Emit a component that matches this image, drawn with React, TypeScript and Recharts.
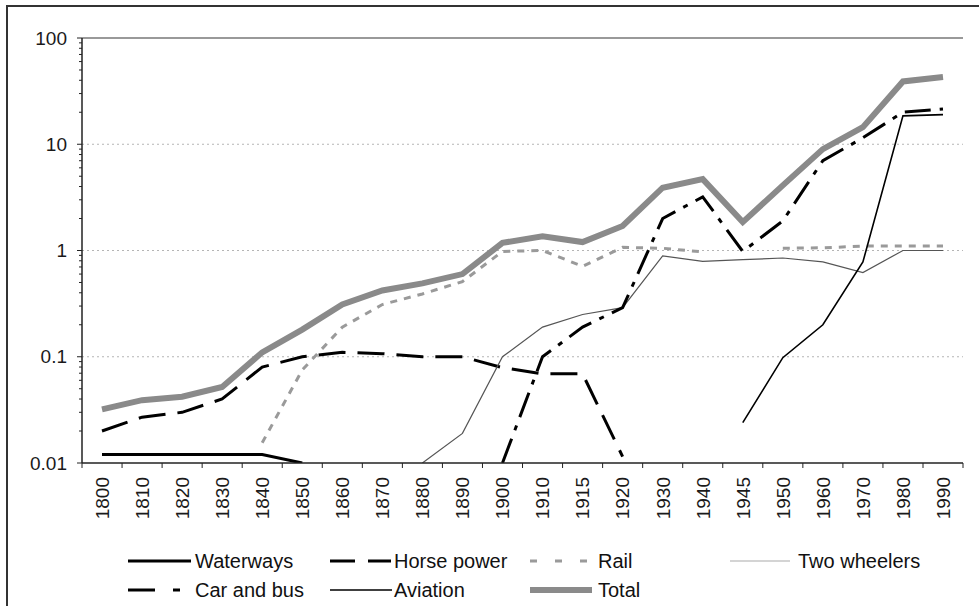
import React from 'react';
import { LineChart, Line, XAxis, YAxis, ReferenceLine, Legend } from 'recharts';

const years = ['1800','1810','1820','1830','1840','1850','1860','1870','1880','1890','1900','1910','1915','1920','1930','1940','1945','1950','1960','1970','1980','1990'];
const waterways = [0.012,0.012,0.012,0.012,0.012,0.01,null,null,null,null,null,null,null,null,null,null,null,null,null,null,null,null];
const horsePower = [0.02,0.027,0.03,0.04,0.08,0.1,0.11,0.107,0.1,0.1,0.079,0.069,0.069,0.0115,null,null,null,null,null,null,null,null];
const rail = [null,null,null,null,0.0155,0.075,0.19,0.31,0.39,0.51,0.98,1.0,0.71,1.07,1.05,0.97,null,1.05,1.06,1.1,1.1,1.1];
const twoWheelers = [null,null,null,null,null,null,null,null,0.01,0.019,0.1,0.19,0.25,0.29,0.89,0.79,0.82,0.85,0.78,0.62,1.0,1.0];
const carAndBus = [null,null,null,null,null,null,null,null,null,null,0.01,0.1,0.19,0.29,2.0,3.2,0.98,1.9,7,11.5,20,21.5];
const aviation = [null,null,null,null,null,null,null,null,null,null,null,null,null,null,null,null,0.024,0.098,0.2,0.78,18.5,19];
const total = [0.032,0.039,0.042,0.052,0.11,0.18,0.31,0.42,0.49,0.6,1.18,1.36,1.2,1.7,3.9,4.7,1.85,4.1,9,14.5,39,43];

const majorTicks = [0.01, 0.1, 1, 10, 100];
const tickLabels = ['0.01', '0.1', '1', '10', '100'];
const minorMultipliers = [2, 3, 4, 5, 6, 7, 8, 9];
const gridValues = [0.1, 1, 10];

const allTicks: number[] = [];
majorTicks.forEach((m, i) => {
  allTicks.push(m);
  if (i < majorTicks.length - 1) minorMultipliers.forEach((k) => allTicks.push(+(m * k).toPrecision(3)));
});

const data = years.map((y, i) => ({
  year: y,
  waterways: waterways[i],
  horsePower: horsePower[i],
  rail: rail[i],
  twoWheelers: twoWheelers[i],
  carAndBus: carAndBus[i],
  aviation: aviation[i],
  total: total[i],
}));

const FONT = '"Liberation Sans", Arial, sans-serif';

const series = [
  { key: 'total', name: 'Total', stroke: '#8a8a8a', width: 6, dash: undefined },
  { key: 'waterways', name: 'Waterways', stroke: '#000', width: 3, dash: undefined },
  { key: 'horsePower', name: 'Horse power', stroke: '#000', width: 3, dash: '27 12' },
  { key: 'rail', name: 'Rail', stroke: '#9a9a9a', width: 3, dash: '7 7' },
  { key: 'twoWheelers', name: 'Two wheelers', stroke: '#555', width: 1.2, dash: undefined },
  { key: 'carAndBus', name: 'Car and bus', stroke: '#000', width: 3, dash: '26 9 5 9' },
  { key: 'aviation', name: 'Aviation', stroke: '#000', width: 1.6, dash: undefined },
];

const legendLayout: { key: string; lx: number; ly: number; tx: number; sampleW: number; legendStroke?: string; legendDash?: string }[] = [
  { key: 'waterways', lx: 128, ly: 561, tx: 195, sampleW: 63 },
  { key: 'horsePower', lx: 330, ly: 561, tx: 394, sampleW: 61, legendDash: '25 13' },
  { key: 'rail', lx: 530, ly: 561, tx: 598, sampleW: 58, legendDash: '7 18' },
  { key: 'twoWheelers', lx: 730, ly: 561, tx: 798, sampleW: 60, legendStroke: '#aaa' },
  { key: 'carAndBus', lx: 128, ly: 590, tx: 195, sampleW: 53, legendDash: '27 18 7 20' },
  { key: 'aviation', lx: 330, ly: 590, tx: 394, sampleW: 62 },
  { key: 'total', lx: 530, ly: 590, tx: 598, sampleW: 62 },
];

const YTick = (props: any) => {
  const { x, y, payload } = props;
  const idx = majorTicks.indexOf(payload.value);
  const isMajor = idx >= 0;
  return (
    <g>
      <line x1={x - (isMajor ? 5 : 3)} x2={x} y1={y} y2={y} stroke="#222" strokeWidth={1} />
      {isMajor && (
        <text x={x - 15} y={y} dy="0.35em" textAnchor="end" fontSize={19} fontFamily={FONT} fill="#1a1a1a">
          {tickLabels[idx]}
        </text>
      )}
    </g>
  );
};

const XTick = (props: any) => {
  const { x, y, payload, index } = props;
  const half = 20;
  return (
    <g>
      <line x1={x - half} x2={x - half} y1={y} y2={y + 5} stroke="#222" strokeWidth={1} />
      {index === years.length - 1 && <line x1={x + half} x2={x + half} y1={y} y2={y + 5} stroke="#222" strokeWidth={1} />}
      <text
        transform={`translate(${x},${y + 14}) rotate(-90)`}
        textAnchor="end"
        dy="0.36em"
        fontSize={19}
        fontFamily={FONT}
        fill="#1a1a1a"
      >
        {payload.value}
      </text>
    </g>
  );
};

const renderLegend = () => (
  <svg width={979} height={611} style={{ position: 'absolute', left: 0, top: 0, overflow: 'visible' }}>
    {legendLayout.map((l) => {
      const s = series.find((q) => q.key === l.key)!;
      return (
        <g key={l.key}>
          <line
            x1={l.lx}
            x2={l.lx + l.sampleW}
            y1={l.ly}
            y2={l.ly}
            stroke={l.legendStroke || s.stroke}
            strokeWidth={s.width}
            strokeDasharray={l.legendDash}
          />
          <text x={l.tx} y={l.ly} dy="0.35em" fontSize={20} fontFamily={FONT} fill="#111">
            {s.name}
          </text>
        </g>
      );
    })}
  </svg>
);

export default function App() {
  return (
    <div style={{ position: 'fixed', left: 0, top: 0, width: 979, height: 611, background: '#fff' }}>
      <div
        style={{
          position: 'absolute',
          left: 6,
          top: 5,
          width: 980,
          height: 601,
          borderLeft: '2px solid #333',
          borderTop: '2px solid #333',
          boxSizing: 'border-box',
        }}
      />
      <div style={{ position: 'absolute', left: 0, top: 0 }}>
        <LineChart
          width={979}
          height={611}
          data={data}
          margin={{ top: 38, right: 16, bottom: 88, left: 22 }}
        >
          {gridValues.map((v) => (
            <ReferenceLine key={v} y={v} stroke="#b5b5b5" strokeDasharray="2 3" strokeWidth={1} />
          ))}
          <ReferenceLine y={100} stroke="#777" strokeWidth={1.5} />
          <XAxis
            dataKey="year"
            scale="point"
            padding={{ left: 20, right: 20 }}
            interval={0}
            tickLine={false}
            tickSize={0}
            tickMargin={0}
            height={60}
            tick={<XTick />}
            axisLine={{ stroke: '#222', strokeWidth: 1.5 }}
          />
          <YAxis
            yAxisId={0}
            scale="log"
            domain={[0.01, 100]}
            allowDataOverflow
            ticks={allTicks}
            interval={0}
            tickLine={false}
            tickSize={0}
            tickMargin={0}
            width={60}
            tick={<YTick />}
            axisLine={{ stroke: '#222', strokeWidth: 1.5 }}
          />
          <YAxis
            yAxisId="r"
            orientation="right"
            scale="log"
            domain={[0.01, 100]}
            width={0}
            tick={false}
            tickLine={false}
            axisLine={{ stroke: '#777', strokeWidth: 1.5 }}
          />
          {series.map((s) => (
            <Line
              key={s.key}
              type="linear"
              dataKey={s.key}
              name={s.name}
              stroke={s.stroke}
              strokeWidth={s.width}
              strokeDasharray={s.dash}
              dot={false}
              activeDot={false}
              isAnimationActive={false}
              connectNulls={false}
            />
          ))}
          <Legend
            layout="horizontal"
            verticalAlign="middle"
            align="center"
            content={renderLegend}
            wrapperStyle={{ position: 'absolute', left: 0, top: 0, width: 979, height: 611, pointerEvents: 'none' }}
          />
        </LineChart>
      </div>
    </div>
  );
}
